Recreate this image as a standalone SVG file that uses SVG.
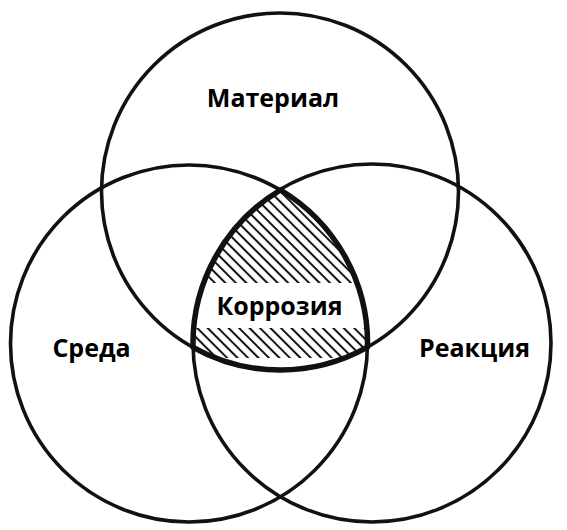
<svg xmlns="http://www.w3.org/2000/svg" width="567" height="530" viewBox="0 0 567 530">
  <style>
    .ring { fill: none; stroke: #111; stroke-width: 3.6; }
    .core { fill: none; stroke: #111; stroke-width: 5.5; stroke-linejoin: round; }
    .label { font-family: "Open Sans", "DejaVu Sans", sans-serif; font-weight: 700; font-size: 25px; fill: #000; text-anchor: middle; }
  </style>
  <defs>
    <pattern id="hatch" patternUnits="userSpaceOnUse" width="7.4" height="7.4" patternTransform="rotate(45)">
      <line x1="0" y1="3.7" x2="7.4" y2="3.7" stroke="#111" stroke-width="2"/>
    </pattern>
    <clipPath id="coreClip">
      <path d="M280.5,190 A179,179 0 0 0 193,347.3 A178.5,178.5 0 0 0 367.5,347.1 A178.5,178.5 0 0 0 280.5,190 Z"/>
    </clipPath>
  </defs>
  <rect width="567" height="530" fill="#fff"/>
  <g id="material">
    <circle class="ring" cx="280" cy="191.5" r="178.5"/>
    <text class="label" x="273" y="107">Материал</text>
  </g>
  <g id="sreda">
    <circle class="ring" cx="189" cy="343.5" r="178.5"/>
    <text class="label" x="91.5" y="357">Среда</text>
  </g>
  <g id="reakciya">
    <circle class="ring" cx="372" cy="343" r="179"/>
    <text class="label" x="474.5" y="357">Реакция</text>
  </g>
  <g id="korroziya">
    <g clip-path="url(#coreClip)">
      <rect x="185" y="185" width="190" height="98" fill="url(#hatch)"/>
      <rect x="185" y="328" width="190" height="30" fill="url(#hatch)"/>
    </g>
    <path class="core" d="M280.5,190 A179,179 0 0 0 193,347.3 A178.5,178.5 0 0 0 367.5,347.1 A178.5,178.5 0 0 0 280.5,190 Z"/>
    <text class="label" x="279.5" y="315">Коррозия</text>
  </g>
  <g id="connectors"/>
</svg>
